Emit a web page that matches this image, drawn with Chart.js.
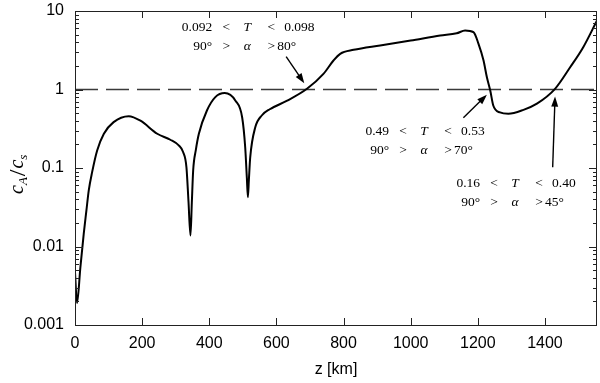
<!DOCTYPE html>
<html>
<head>
<meta charset="utf-8">
<script src="https://cdn.jsdelivr.net/npm/chart.js@4.4.0/dist/chart.umd.min.js"></script>
<style>
  html, body { margin:0; padding:0; background:#fff; }
</style>
</head>
<body>
<canvas id="chart" width="600" height="383"></canvas>
<script>
// ── data ────────────────────────────────────────────────────────────────────
const zKm = [0, 6, 16, 26, 34, 41, 51, 66, 86, 115, 160, 195, 245, 284, 309, 322, 332, 338, 344, 348,
  352, 360, 369, 393, 418, 446, 478, 498, 507, 512, 515, 518, 522, 537, 557, 580, 632, 691, 740, 770,
  790, 830, 909, 1000, 1088, 1137, 1162, 1187, 1202, 1217, 1227, 1237, 1246, 1266, 1291, 1336, 1376,
  1430, 1475, 1514, 1555];
const ratio = [0.0047, 0.0019, 0.0054, 0.0145, 0.0288, 0.052, 0.0885, 0.167, 0.273, 0.384, 0.457, 0.40,
  0.273, 0.229, 0.194, 0.160, 0.102, 0.038, 0.0138, 0.036, 0.093, 0.17, 0.273, 0.54, 0.80, 0.90, 0.72,
  0.44, 0.184, 0.074, 0.0425, 0.071, 0.137, 0.33, 0.47, 0.56, 0.72, 1.02, 1.58, 2.34, 2.85, 3.2, 3.64,
  4.2, 4.87, 5.2, 5.65, 5.37, 3.82, 2.34, 1.43, 0.97, 0.625, 0.51, 0.49, 0.55, 0.66, 1.02, 1.92, 3.46, 7.57];

const zMin = 0, zMax = 1555;
const xTicks = [0, 200, 400, 600, 800, 1000, 1200, 1400];
const yTicks = [0.001, 0.01, 0.1, 1, 10];
const yTickLabels = ['0.001', '0.01', '0.1', '1', '10'];
const threshold = 1;

// annotation texts, anchored in data coords (text column centre / first baseline)
const noteAnchors = [[513, 5.64], [1040, 0.26], [1311, 0.057]];
const noteLow     = ['0.092', '0.49', '0.16'];
const noteHigh    = ['0.098', '0.53', '0.40'];
const noteAngle   = ['80°', '70°', '45°'];
const arrowTips   = [[683, 1.20], [1227, 0.86], [1430, 0.814]];
const arrowTails  = [[629, 2.63], [1157, 0.436], [1423, 0.102]];

// ── drawing helpers ─────────────────────────────────────────────────────────
const SERIF = '"Liberation Serif", "DejaVu Serif", serif';
const SANS  = '"Liberation Sans", Arial, sans-serif';

function token(ctx, txt, x, y, align, italic) {
  ctx.font = (italic ? 'italic ' : '') + '13.5px ' + SERIF;
  ctx.textAlign = align;
  ctx.fillText(txt, x, y);
}

function arrow(ctx, x1, y1, x2, y2) {
  const a = Math.atan2(y2 - y1, x2 - x1), L = 10, W = 3.5;
  ctx.beginPath();
  ctx.moveTo(x1, y1);
  ctx.lineTo(x2 - Math.cos(a) * L * 0.8, y2 - Math.sin(a) * L * 0.8);
  ctx.stroke();
  ctx.beginPath();
  ctx.moveTo(x2, y2);
  ctx.lineTo(x2 - Math.cos(a) * L - Math.sin(a) * W, y2 - Math.sin(a) * L + Math.cos(a) * W);
  ctx.lineTo(x2 - Math.cos(a) * L + Math.sin(a) * W, y2 - Math.sin(a) * L - Math.cos(a) * W);
  ctx.closePath();
  ctx.fill();
}

const framePlugin = {
  id: 'frame',
  afterDatasetsDraw(chart) {
    const { ctx, chartArea: a, scales: { x, y } } = chart;
    ctx.save();
    ctx.strokeStyle = '#222';
    ctx.lineWidth = 1;
    ctx.strokeRect(a.left + 0.5, a.top + 0.5, a.right - a.left - 1, a.bottom - a.top);
    ctx.beginPath();
    // x ticks, inward on bottom and top
    xTicks.forEach(v => {
      const px = Math.round(x.getPixelForValue(v)) + 0.5;
      ctx.moveTo(px, a.bottom); ctx.lineTo(px, a.bottom - 7);
      ctx.moveTo(px, a.top);    ctx.lineTo(px, a.top + 7);
    });
    // y ticks, major + minor, inward on left and right
    for (let d = -3; d <= 1; d++) {
      for (let m = 1; m <= 9; m++) {
        const v = m * Math.pow(10, d);
        if (v > 10.0001) break;
        const py = Math.round(y.getPixelForValue(v)) + 0.5;
        const len = m === 1 ? 8 : 4;
        ctx.moveTo(a.left, py);  ctx.lineTo(a.left + len, py);
        ctx.moveTo(a.right, py); ctx.lineTo(a.right - len, py);
      }
    }
    ctx.stroke();
    ctx.restore();
  },
  afterDraw(chart) {
    const { ctx, chartArea: a, scales: { x, y } } = chart;
    ctx.save();
    ctx.fillStyle = '#000';
    ctx.textBaseline = 'alphabetic';

    // x title
    ctx.font = '16px ' + SANS;
    ctx.textAlign = 'center';
    ctx.fillText('z [km]', (a.left + a.right) / 2, 374);

    // y title  c_A / c_s  (rotated)
    ctx.translate(23, 168);
    ctx.rotate(-Math.PI / 2);
    ctx.textAlign = 'left';
    const big = 'italic 20px ' + SERIF, sub = 'italic 13px ' + SERIF;
    let cx = -26;
    ctx.font = big; ctx.fillText('c', cx, 0); cx += ctx.measureText('c').width;
    ctx.font = sub; ctx.fillText('A', cx, 4); cx += ctx.measureText('A').width + 1;
    ctx.font = '24px ' + SERIF; ctx.fillText('/', cx, 2); cx += ctx.measureText('/').width + 1;
    ctx.font = big; ctx.fillText('c', cx, 0); cx += ctx.measureText('c').width;
    ctx.font = sub; ctx.fillText('s', cx, 4);
    ctx.setTransform(1, 0, 0, 1, 0, 0);

    // annotations
    noteAnchors.forEach(([nx, ny], i) => {
      const c = x.getPixelForValue(nx), b1 = y.getPixelForValue(ny), b2 = b1 + 19;
      token(ctx, noteLow[i], c - 35, b1, 'right');
      token(ctx, '<', c - 21, b1, 'center');
      token(ctx, 'T', c, b1, 'center', true);
      token(ctx, '<', c + 24, b1, 'center');
      token(ctx, noteHigh[i], c + 37, b1, 'left');
      token(ctx, '90°', c - 35, b2, 'right');
      token(ctx, '>', c - 21, b2, 'center');
      token(ctx, 'α', c, b2, 'center', true);
      token(ctx, '>', c + 24, b2, 'center');
      token(ctx, noteAngle[i], c + 30, b2, 'left');
    });
    ctx.strokeStyle = '#000';
    ctx.lineWidth = 1.4;
    arrowTips.forEach((tip, i) => {
      const tail = arrowTails[i];
      arrow(ctx, x.getPixelForValue(tail[0]), y.getPixelForValue(tail[1]),
                 x.getPixelForValue(tip[0]),  y.getPixelForValue(tip[1]));
    });
    ctx.restore();
  }
};

new Chart(document.getElementById('chart'), {
  type: 'line',
  data: {
    datasets: [
      { data: zKm.map((z, i) => ({ x: z, y: ratio[i] })),
        borderColor: '#000', borderWidth: 2, pointRadius: 0, fill: false,
        cubicInterpolationMode: 'monotone' },
      { data: [{ x: zMin, y: threshold }, { x: zMax, y: threshold }],
        borderColor: '#3a3a3a', borderWidth: 1.3, borderDash: [23, 8], pointRadius: 0, fill: false }
    ]
  },
  options: {
    responsive: false,
    animation: false,
    layout: { padding: { top: 11, right: 3, left: 0, bottom: 0 } },
    plugins: { legend: { display: false }, tooltip: { enabled: false } },
    scales: {
      x: {
        type: 'linear', min: zMin, max: zMax,
        afterBuildTicks: s => { s.ticks = xTicks.map(v => ({ value: v })); },
        afterFit: s => { s.height = 58; s.paddingLeft = 0; s.paddingRight = 0; },
        ticks: { callback: (v, i) => String(xTicks[i]), color: '#000', padding: 9,
                 autoSkip: false, maxRotation: 0, font: { family: SANS, size: 16 } },
        grid: { display: false, drawTicks: false },
        border: { display: false }
      },
      y: {
        type: 'logarithmic', min: 0.001, max: 10,
        afterBuildTicks: s => { s.ticks = yTicks.map(v => ({ value: v })); },
        afterFit: s => { s.width = 75; s.paddingTop = 0; s.paddingBottom = 0; },
        ticks: { callback: (v, i) => yTickLabels[i], color: '#000', padding: 11,
                 autoSkip: false, font: { family: SANS, size: 16 } },
        grid: { display: false, drawTicks: false },
        border: { display: false }
      }
    }
  },
  plugins: [framePlugin]
});
</script>
</body>
</html>
